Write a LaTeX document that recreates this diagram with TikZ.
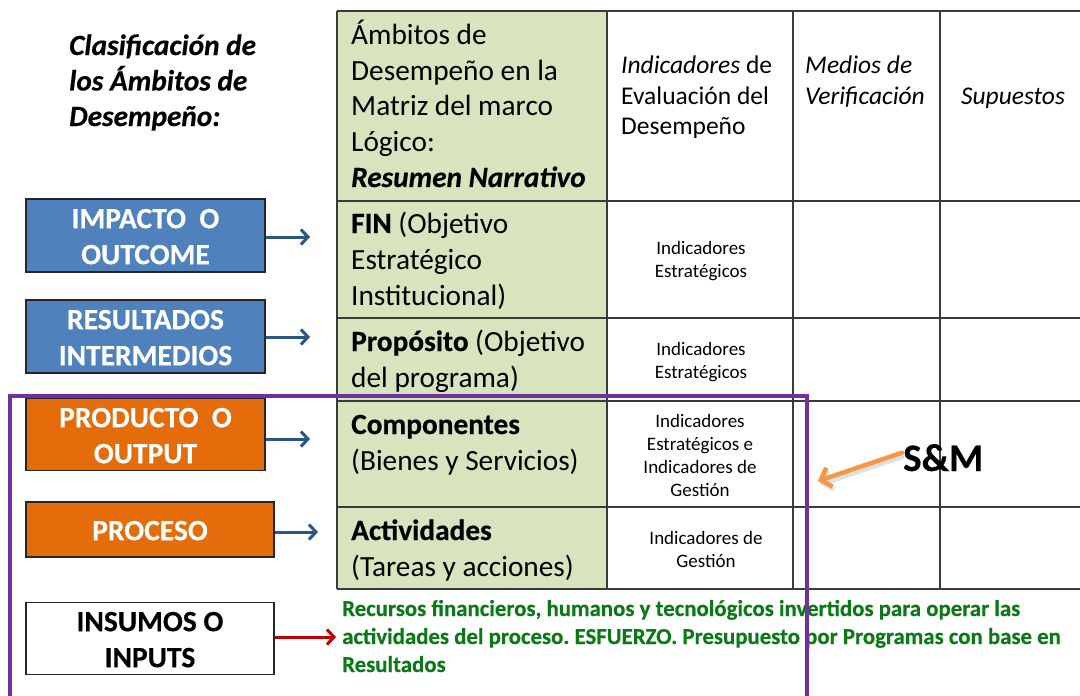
\documentclass[tikz,border=0pt]{standalone}
\usepackage{fontspec}
\setmainfont{Carlito}[BoldFeatures={FakeBold=0.4},BoldItalicFeatures={FakeBold=0.4}]
\usetikzlibrary{arrows.meta}
\frenchspacing
\definecolor{cellgreen}{HTML}{D7E4BD}
\definecolor{boxblue}{HTML}{4F81BD}
\definecolor{boxorange}{HTML}{E46C0A}
\definecolor{arrowblue}{HTML}{2A5587}
\definecolor{arrowred}{HTML}{C00000}
\definecolor{smorange}{HTML}{F79646}
\definecolor{framepurple}{HTML}{7030A0}
\definecolor{textgreen}{HTML}{0B7A16}
\definecolor{gridgray}{HTML}{3A3A3A}
\newcommand\Lft[1]{\begin{tabular}[t]{@{}l@{}}#1\end{tabular}}
\newcommand\Ctr[1]{\begin{tabular}[t]{@{}c@{}}#1\end{tabular}}
\newcommand\Mid[1]{\raisebox{-3.5pt}[\height][\depth]{\begin{tabular}[c]{@{}c@{}}#1\end{tabular}}}
\tikzset{
  txt/.style={inner sep=0pt, anchor=base west},
  ctxt/.style={inner sep=0pt, anchor=base},
  big/.style={font=\fontsize{29.3}{36}\selectfont},
  small/.style={font=\fontsize{19}{23}\selectfont},
  clsbox/.style={draw=black!85, line width=1.3pt, inner sep=0pt, text=white,
    font=\fontsize{29.5}{36}\selectfont\bfseries},
  grid/.style={draw=gridgray, line width=1.5pt},
  barrow/.style={draw=arrowblue, line width=3pt, -{Straight Barb[length=7pt,width=15pt,line width=3pt]}},
  rarrow/.style={draw=arrowred, line width=3pt, -{Straight Barb[length=7pt,width=15pt,line width=3pt]}},
  oarrow/.style={draw=smorange, line width=4.5pt, line cap=round,
    -{Straight Barb[length=9pt,width=20pt,line width=4.5pt]},
    preaction={draw=black, opacity=0.12, line width=6pt,
      transform canvas={shift={(1.5pt,-3pt)}}}},
}
\begin{document}
\begin{tikzpicture}[x=1pt,y=-1pt]
\useasboundingbox (0,0) rectangle (1080,696);
% table
\fill[cellgreen] (337,11) rectangle (607,589);
\foreach \yy in {11,201,318,401,507,589} \draw[grid] (337,\yy) -- (1080,\yy);
\foreach \xx in {337,607,793,940} \draw[grid] (\xx,11) -- (\xx,589);
% title
\node[txt, font=\fontsize{29.3}{35.5}\selectfont\bfseries\itshape] (title) at (69,55)
  {\Lft{Clasificación de\\los Ámbitos de\\Desempeño:}};
% header
\node[txt, font=\fontsize{29.3}{35.5}\selectfont] (hdr1) at (351,45)
  {\Lft{Ámbitos de\\Desempeño en la\\Matriz del marco\\Lógico:\\{\bfseries\itshape Resumen Narrativo}}};
\node[txt, font=\fontsize{25.5}{31}\selectfont] (hdr2) at (621,73)
  {\Lft{{\itshape Indicadores} de\\Evaluación del\\Desempeño}};
\node[txt, font=\fontsize{25.5}{31}\selectfont\itshape] (hdr3) at (805,73)
  {\Lft{Medios de\\Verificación}};
\node[ctxt, font=\fontsize{25.5}{31}\selectfont\itshape] (hdr4) at (1013,104) {Supuestos};
% rows
\node[txt, big] (fin) at (351,233) {\Lft{{\bfseries FIN} (Objetivo\\Estratégico\\Institucional)}};
\node[txt, big] (prop) at (351,351) {\Lft{{\bfseries Propósito} (Objetivo\\del programa)}};
\node[txt, big] (comp) at (351,434) {\Lft{{\bfseries Componentes}\\(Bienes y Servicios)}};
\node[txt, big] (act) at (351,540) {\Lft{{\bfseries Actividades}\\(Tareas y acciones)}};
% indicators
\node[ctxt, small] (ind1) at (701,254) {\Ctr{Indicadores\\Estratégicos}};
\node[ctxt, small] (ind2) at (701,355) {\Ctr{Indicadores\\Estratégicos}};
\node[ctxt, small] (ind3) at (700,427) {\Ctr{Indicadores\\Estratégicos e\\Indicadores de\\Gestión}};
\node[ctxt, small] (ind4) at (706,544) {\Ctr{Indicadores de\\Gestión}};
% classification boxes
\node[clsbox, fill=boxblue, minimum width=239pt, minimum height=73pt] (impacto) at (145.5,235.5)
  {\Mid{IMPACTO~ O\\OUTCOME}};
\node[clsbox, fill=boxblue, minimum width=239pt, minimum height=73pt] (result) at (145.5,336.5)
  {\Mid{RESULTADOS\\INTERMEDIOS}};
\node[clsbox, fill=boxorange, minimum width=239pt, minimum height=65pt] (prod) at (145.5,434.5)
  {\Mid{PRODUCTO~ O\\OUTPUT}};
\node[clsbox, fill=boxorange, minimum width=248pt, minimum height=55pt] (proc) at (150,529.5)
  {\Mid{PROCESO}};
\node[clsbox, fill=white, text=black, minimum width=248pt, minimum height=71pt] (insumos) at (150,638.5)
  {\Mid{INSUMOS O\\INPUTS}};
% arrow ends
\coordinate (a1) at (310,237);
\coordinate (a2) at (310,337);
\coordinate (a3) at (310,439);
\coordinate (a4) at (318,532);
\coordinate (a5) at (336,637);
\draw[barrow] (impacto.east |- a1) -- (a1);
\draw[barrow] (result.east |- a2) -- (a2);
\draw[barrow] (prod.east |- a3) -- (a3);
\draw[barrow] (proc.east |- a4) -- (a4);
\draw[rarrow] (insumos.east |- a5) -- (a5);
% inputs description
\node[txt, font=\fontsize{22.8}{28}\selectfont\bfseries, text=textgreen] (desc) at (342,616)
  {\Lft{Recursos financieros, humanos y tecnológicos invertidos para operar las\\actividades del proceso. ESFUERZO. Presupuesto por Programas con base en\\Resultados}};
% S&M
\node[txt, font=\fontsize{39}{42}\selectfont\bfseries] (sm) at (903,471) {S\&M};
\coordinate (smtip) at (818,481);
\draw[oarrow] ([xshift=-1pt,yshift=5pt]sm.west) -- (smtip);
% purple frame
\draw[framepurple, line width=3.5pt] (10,700) |- (807,396) -- (807,700);
\end{tikzpicture}
\end{document}
